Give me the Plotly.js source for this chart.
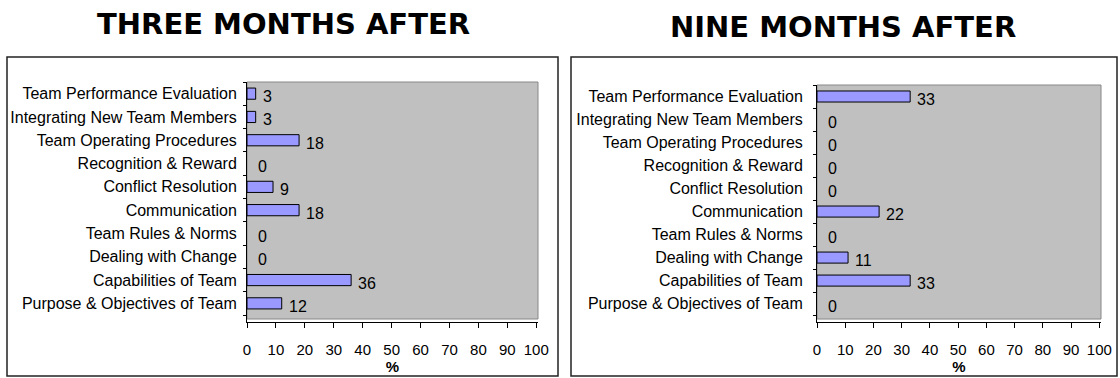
<!DOCTYPE html>
<html>
<head>
<meta charset="utf-8">
<script src="https://cdn.plot.ly/plotly-3.0.1.min.js"></script>
<style>
  html, body { margin: 0; padding: 0; background: #fff; }
  #chart { width: 1120px; height: 378px; }
</style>
</head>
<body>
<div id="chart"></div>
<script>
// categories, bottom to top (Plotly draws the first category at the bottom)
const categories = [
    'Purpose & Objectives of Team',
    'Capabilities of Team',
    'Dealing with Change',
    'Team Rules & Norms',
    'Communication',
    'Conflict Resolution',
    'Recognition & Reward',
    'Team Operating Procedures',
    'Integrating New Team Members',
    'Team Performance Evaluation'
];

// percentages, same order as categories
const threeMonths = [12, 36, 0, 0, 18, 9, 0, 18, 3, 3];
const nineMonths = [0, 33, 11, 0, 22, 0, 0, 0, 0, 33];

const panelTitles = ['THREE MONTHS AFTER', 'NINE MONTHS AFTER'];
const xTickVals = [0, 10, 20, 30, 40, 50, 60, 70, 80, 90, 100];

const W = 1120, H = 378;
const px = v => v / W;
const py = v => 1 - v / H;

const barColor = '#9999ff';
const sans = 'Liberation Sans, Arial, sans-serif';
const labelFont = { family: sans, size: 16, color: '#000' };
const tickFont = { family: sans, size: 15, color: '#000' };

function barTrace(values, xa, ya) {
    return {
        type: 'bar',
        orientation: 'h',
        x: values,
        y: categories,
        xaxis: xa,
        yaxis: ya,
        width: 0.48,
        // no outline on empty bars
        marker: { color: barColor, line: { color: '#000', width: values.map(v => (v === 0 ? 0 : 1)) } },
        hoverinfo: 'x+y',
        showlegend: false
    };
}

// value labels next to each bar end
function valueLabels(values, xa, ya) {
    return values.map((v, i) => ({
        x: v,
        y: categories[i],
        xref: xa,
        yref: ya,
        text: String(v),
        showarrow: false,
        xanchor: 'left',
        yanchor: 'middle',
        xshift: v === 0 ? 9 : 5,
        yshift: -3,
        font: { family: sans, size: 16, color: '#000' }
    }));
}

function xAxis(domain, anchor) {
    return {
        domain: domain,
        anchor: anchor,
        range: [0, 100.6],
        tickvals: xTickVals,
        ticks: 'outside',
        ticklen: 5,
        tickcolor: '#000',
        ticklabelstandoff: 9,
        showline: true,
        linecolor: '#000',
        linewidth: 1,
        showgrid: false,
        zeroline: false,
        fixedrange: true,
        tickfont: tickFont,
        title: { text: '<b>%</b>', standoff: 0, font: { family: sans, size: 15, color: '#000' } }
    };
}

function yAxis(domain, anchor, standoff) {
    return {
        domain: domain,
        anchor: anchor,
        type: 'category',
        range: [-0.8, 9.5],
        tickson: 'boundaries',
        ticks: 'outside',
        ticklen: 3,
        tickcolor: '#000',
        ticklabelstandoff: standoff,
        showline: true,
        linecolor: '#000',
        linewidth: 1,
        showgrid: false,
        zeroline: false,
        fixedrange: true,
        tickfont: labelFont
    };
}

// grey plot area and outer boxes (decoration)
function plotBack(xa, ya) {
    return {
        type: 'rect', layer: 'below',
        xref: xa + ' domain', yref: ya + ' domain',
        x0: 0, x1: 1, y0: 0.0125, y1: 1,
        fillcolor: '#c0c0c0',
        line: { color: '#888', width: 1 }
    };
}

function outerBox(x0, x1) {
    return {
        type: 'rect', layer: 'below',
        xref: 'paper', yref: 'paper',
        x0: px(x0), x1: px(x1), y0: py(376), y1: py(57),
        fillcolor: 'rgba(0,0,0,0)',
        line: { color: '#222', width: 1.5 }
    };
}

const titleFont = { family: 'DejaVu Sans, Verdana, sans-serif', size: 29, color: '#000' };

const layout = {
    width: W,
    height: H,
    margin: { l: 0, r: 0, t: 0, b: 0 },
    paper_bgcolor: '#fff',
    plot_bgcolor: 'rgba(0,0,0,0)',
    showlegend: false,
    xaxis: xAxis([px(247), px(538)], 'y'),
    yaxis: yAxis([py(322), py(82)], 'x', 6),
    xaxis2: xAxis([px(817), px(1101)], 'y2'),
    yaxis2: yAxis([py(322), py(85)], 'x2', 10),
    shapes: [
        outerBox(7, 558),
        outerBox(571, 1117),
        plotBack('x', 'y'),
        plotBack('x2', 'y2')
    ],
    annotations: [
        {
            text: '<b>' + panelTitles[0] + '</b>', xref: 'paper', yref: 'paper',
            x: px(283), y: py(24), xanchor: 'center', yanchor: 'middle',
            showarrow: false, font: titleFont
        },
        {
            text: '<b>' + panelTitles[1] + '</b>', xref: 'paper', yref: 'paper',
            x: px(843), y: py(27), xanchor: 'center', yanchor: 'middle',
            showarrow: false, font: titleFont
        }
    ].concat(valueLabels(threeMonths, 'x', 'y'), valueLabels(nineMonths, 'x2', 'y2'))
};

Plotly.newPlot('chart', [
    barTrace(threeMonths, 'x', 'y'),
    barTrace(nineMonths, 'x2', 'y2')
], layout, { displayModeBar: false, staticPlot: true });
</script>
</body>
</html>
